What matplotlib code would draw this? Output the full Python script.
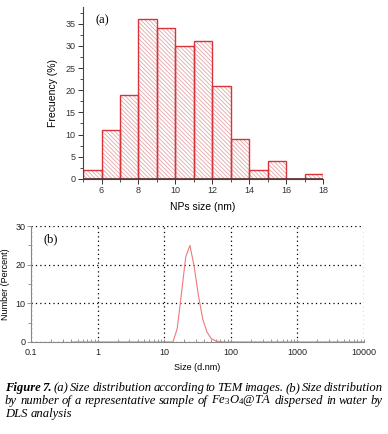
import matplotlib
matplotlib.use("Agg")
import matplotlib.pyplot as plt
import numpy as np
from matplotlib.ticker import MultipleLocator, FixedLocator, LogLocator, NullFormatter

plt.rcParams['font.family'] = ['Liberation Sans', 'DejaVu Sans']
plt.rcParams['mathtext.fontset'] = 'custom'
plt.rcParams['mathtext.it'] = 'Liberation Serif:italic'
plt.rcParams['mathtext.rm'] = 'Liberation Serif'
plt.rcParams['hatch.linewidth'] = 0.6

# (a) TEM histogram
bin_left = [5, 6, 7, 8, 9, 10, 11, 12, 13, 14, 15, 16, 17]
frequency = [2, 11, 19, 36, 34, 30, 31, 21, 9, 2, 4, 0, 1]

# (b) DLS size distribution by number
dls_size = [0.4, 0.4632, 0.5365, 0.6213, 0.7195, 0.8332, 0.9649, 1.117, 1.294, 1.499,
            1.736, 2.010, 2.328, 2.696, 3.122, 3.615, 4.187, 4.849, 5.615, 6.503,
            7.531, 8.721, 10.10, 11.70, 13.54, 15.69, 18.17, 21.04, 24.36, 28.21,
            32.67, 37.84, 43.82, 50.75, 58.77, 68.06, 78.82, 91.28, 105.7, 122.4,
            141.8, 164.2, 190.1, 220.2, 255.0, 295.3, 342.0, 396.1, 458.7, 531.2,
            615.1, 712.4, 825.0, 955.4, 1106, 1281, 1484, 1718, 1990, 2305,
            2669, 3091, 3580, 4145, 4801, 5560, 6439, 7456, 8635, 10000]
dls_number = [0] * 24 + [0.0, 3.5, 12.6, 22.0, 25.0, 19.5, 12.0, 6.0, 2.6, 0.9,
                         0.3, 0.1] + [0] * 34

fig = plt.figure(figsize=(3.88, 4.34), dpi=100)

# ---- panel (a)
ax1 = fig.add_axes([0.214, 0.588, 0.619, 0.396])
ax1.bar(bin_left, frequency, width=1, align='edge', color='white',
        edgecolor='#e3a5a8', hatch='\\' * 8, linewidth=0)
ax1.bar(bin_left, frequency, width=1, align='edge', fill=False,
        edgecolor='#d8343c', linewidth=1.0)
ax1.axhline(0, color='#5a3030', lw=1.2, zorder=3)
ax1.set_xlim(5, 18)
ax1.set_ylim(0, 38.8)
ax1.xaxis.set_major_locator(MultipleLocator(2))
ax1.xaxis.set_minor_locator(MultipleLocator(1))
ax1.yaxis.set_major_locator(MultipleLocator(5))
ax1.yaxis.set_minor_locator(MultipleLocator(2.5))
for s in ['top', 'right']:
    ax1.spines[s].set_visible(False)
for s in ['left', 'bottom']:
    ax1.spines[s].set_color('#444444')
    ax1.spines[s].set_linewidth(0.8)
ax1.tick_params(which='major', length=3.5, width=0.7, labelsize=6.5, colors='#333333', pad=2)
ax1.tick_params(which='minor', length=2, width=0.6, colors='#333333')
ax1.set_xlabel('NPs size (nm)', fontsize=7.5, labelpad=5)
ax1.set_ylabel('Frecuency (%)', fontsize=7.5, labelpad=5)
ax1.text(0.05, 0.92, '(a)', transform=ax1.transAxes, fontsize=9,
         family='Liberation Serif', va='center')

# ---- panel (b)
ax2 = fig.add_axes([0.080, 0.212, 0.858, 0.267])
ax2.plot(dls_size, dls_number, color='#f07a7a', lw=0.8)
ax2.set_xscale('log')
ax2.set_xlim(0.1, 10000)
ax2.set_ylim(0, 30)
ax2.xaxis.set_major_locator(FixedLocator([0.1, 1, 10, 100, 1000, 10000]))
ax2.set_xticklabels(['0.1', '1', '10', '100', '1000', '10000'])
ax2.xaxis.set_minor_locator(LogLocator(base=10, subs=np.arange(2, 10)))
ax2.xaxis.set_minor_formatter(NullFormatter())
ax2.yaxis.set_major_locator(MultipleLocator(10))
ax2.yaxis.set_minor_locator(MultipleLocator(5))
ax2.grid(True, which='major', color='black', linestyle=(0, (1, 2.5)), linewidth=0.9)
for s in ['top', 'right']:
    ax2.spines[s].set_visible(False)
for s in ['left', 'bottom']:
    ax2.spines[s].set_color('#888888')
    ax2.spines[s].set_linewidth(0.8)
ax2.tick_params(axis='x', which='both', direction='in', length=2.5, width=0.6,
                colors='#888888', labelcolor='#222222', labelsize=6.5, pad=4)
ax2.tick_params(axis='y', which='major', direction='out', length=3, width=0.6,
                colors='#888888', labelcolor='#222222', labelsize=6.5, pad=1)
ax2.tick_params(axis='y', which='minor', direction='out', length=2, width=0.6,
                colors='#888888')
ax2.set_xlabel('Size (d.nm)', fontsize=6.5, labelpad=5)
ax2.set_ylabel('Number (Percent)', fontsize=6.5, labelpad=4)
ax2.text(0.036, 0.89, '(b)', transform=ax2.transAxes, fontsize=9,
         family='Liberation Serif', va='center')

# ---- caption, justified lines
cap_lines = [
    ([('Figure', 'bold'), ('7.', 'bold'), ('(a)', 'normal'), ('Size', 'normal'),
      ('distribution', 'normal'), ('according', 'normal'), ('to', 'normal'),
      ('TEM', 'normal'), ('images.', 'normal'), ('(b)', 'normal'), ('Size', 'normal'),
      ('distribution', 'normal')], True),
    ([('by', 'normal'), ('number', 'normal'), ('of', 'normal'), ('a', 'normal'),
      ('representative', 'normal'), ('sample', 'normal'), ('of', 'normal'),
      (r'$Fe_3O_4@TA$', 'normal'), ('dispersed', 'normal'), ('in', 'normal'),
      ('water', 'normal'), ('by', 'normal')], True),
    ([('DLS', 'normal'), ('analysis', 'normal')], False),
]
cap_y = [434 - 388, 434 - 401, 434 - 414]
x0, x1 = 5, 383
renderer = fig.canvas.get_renderer()
for (words, justify), ypx in zip(cap_lines, cap_y):
    texts = [fig.text(0, ypx / 434, w, fontsize=9.1, family='Liberation Serif',
                      style='italic', weight=wt, va='center')
             for w, wt in words]
    widths = [t.get_window_extent(renderer).width for t in texts]
    if justify:
        gap = (x1 - x0 - sum(widths)) / (len(texts) - 1)
    else:
        gap = 3.0
    x = x0
    for t, w in zip(texts, widths):
        t.set_x(x / 388)
        x += w + gap

fig.savefig('out.png', dpi=100)
